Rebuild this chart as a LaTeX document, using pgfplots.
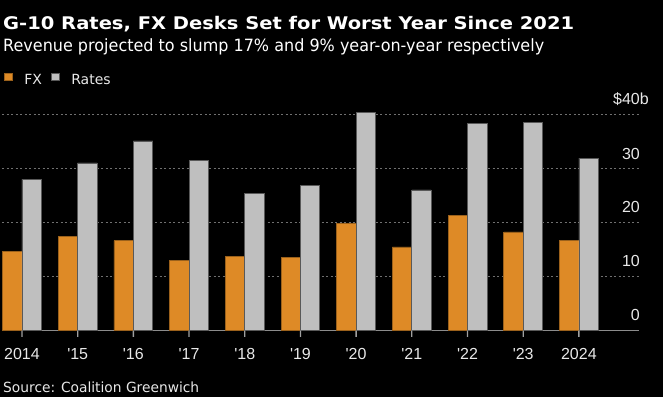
\documentclass[border=0pt]{standalone}
\usepackage{pgfplots}
\pgfplotsset{compat=1.18}
\usepackage{fontspec}
\usepackage{graphicx}
\setmainfont{DejaVu Sans}
\newfontfamily\numfont{Liberation Sans}
\definecolor{fxorange}{HTML}{DE8A26}
\definecolor{ratesgray}{HTML}{BFBFBF}
\definecolor{txt}{HTML}{E8E8E8}
\definecolor{gridc}{HTML}{707070}
\definecolor{tickc}{HTML}{A0A0A0}
\begin{document}
\begin{tikzpicture}
\fill[black] (0pt,0pt) rectangle (663pt,-397pt);
\node[anchor=base west, inner sep=0pt, text=white] at (3pt,-29.3pt)
  {\resizebox{571pt}{\height}{\fontsize{17.4pt}{20pt}\selectfont\bfseries G-10 Rates, FX Desks Set for Worst Year Since 2021}};
\node[anchor=base west, inner sep=0pt, text=white] at (3pt,-51.7pt)
  {\resizebox{541pt}{\height}{\fontsize{16.9pt}{20pt}\selectfont Revenue projected to slump 17\% and 9\% year-on-year respectively}};
\node[anchor=base west, inner sep=0pt, text=txt] at (3pt,-392.3pt)
  {\resizebox{196pt}{\height}{\fontsize{14pt}{16pt}\selectfont Source: Coalition Greenwich}};
\begin{axis}[
  at={(2pt,-330.5pt)}, anchor=south west,
  scale only axis, width=637pt, height=220.9pt,
  xmin=-0.359, xmax=11.08, ymin=0, ymax=41,
  clip=false,
  ybar=0pt, bar width=19.4pt,
  separate axis lines,
  axis x line*=bottom,
  axis y line*=right,
  x axis line style={-, draw=gray!90, line width=1.2pt},
  y axis line style={draw=none},
  xtick={0,1,2,3,4,5,6,7,8,9,10},
  xticklabels={2014,\textquotesingle15,\textquotesingle16,\textquotesingle17,\textquotesingle18,\textquotesingle19,\textquotesingle20,\textquotesingle21,\textquotesingle22,\textquotesingle23,2024},
  major tick length=0pt,
  tick style={draw=none},
  xticklabel style={anchor=north, inner sep=0pt, yshift=-17.8pt, text=txt, font=\numfont\fontsize{16pt}{18pt}\selectfont},
  ytick={0,10,20,30,40},
  yticklabels={0,10,20,30,\llap{\$}40\rlap{b}},
  yticklabel style={anchor=south east, inner sep=0pt, xshift=1pt, yshift=9.5pt, text=txt, font=\numfont\fontsize{16pt}{18pt}\selectfont},
  ymajorgrids,
  grid style={draw=gridc, line width=1pt, dash pattern=on 2pt off 2.5pt},
  legend style={draw=none, fill=none, text=txt, font=\fontsize{14pt}{16pt}\selectfont,
     at={(axis description cs:0.0035,1.168)}, anchor=north west, legend columns=2,
     inner sep=0pt, outer sep=0pt,
     /tikz/every odd column/.append style={column sep=10pt},
     /tikz/every even column/.append style={column sep=7pt}},
  legend image code/.code={\fill[#1] (0pt,-0.3pt) rectangle (7.5pt,7.4pt);},
]
\addplot[fill=fxorange, draw=fxorange!70!black, line width=0.7pt, bar shift=-9.7pt] coordinates {
(0,14.75) (1,17.5) (2,16.7) (3,13.0) (4,13.7) (5,13.6) (6,19.8) (7,15.5) (8,21.4) (9,18.3) (10,16.7)};
\addlegendentry{FX}
\addplot[fill=ratesgray, draw=black!65, line width=0.7pt, bar shift=9.7pt] coordinates {
(0,28.05) (1,31.1) (2,35.2) (3,31.5) (4,25.4) (5,26.9) (6,40.4) (7,26.1) (8,38.4) (9,38.6) (10,32.0)};
\addlegendentry{Rates}
% category tick marks below the baseline
\addplot[fill=tickc, draw=none, bar width=1.3pt, bar shift=0pt, forget plot] coordinates {
(0,-1.2) (1,-1.2) (2,-1.2) (3,-1.2) (4,-1.2) (5,-1.2) (6,-1.2) (7,-1.2) (8,-1.2) (9,-1.2) (10,-1.2)};
\end{axis}
\pgfresetboundingbox
\useasboundingbox (0pt,0pt) rectangle (663pt,-397pt);
\end{tikzpicture}
\end{document}
